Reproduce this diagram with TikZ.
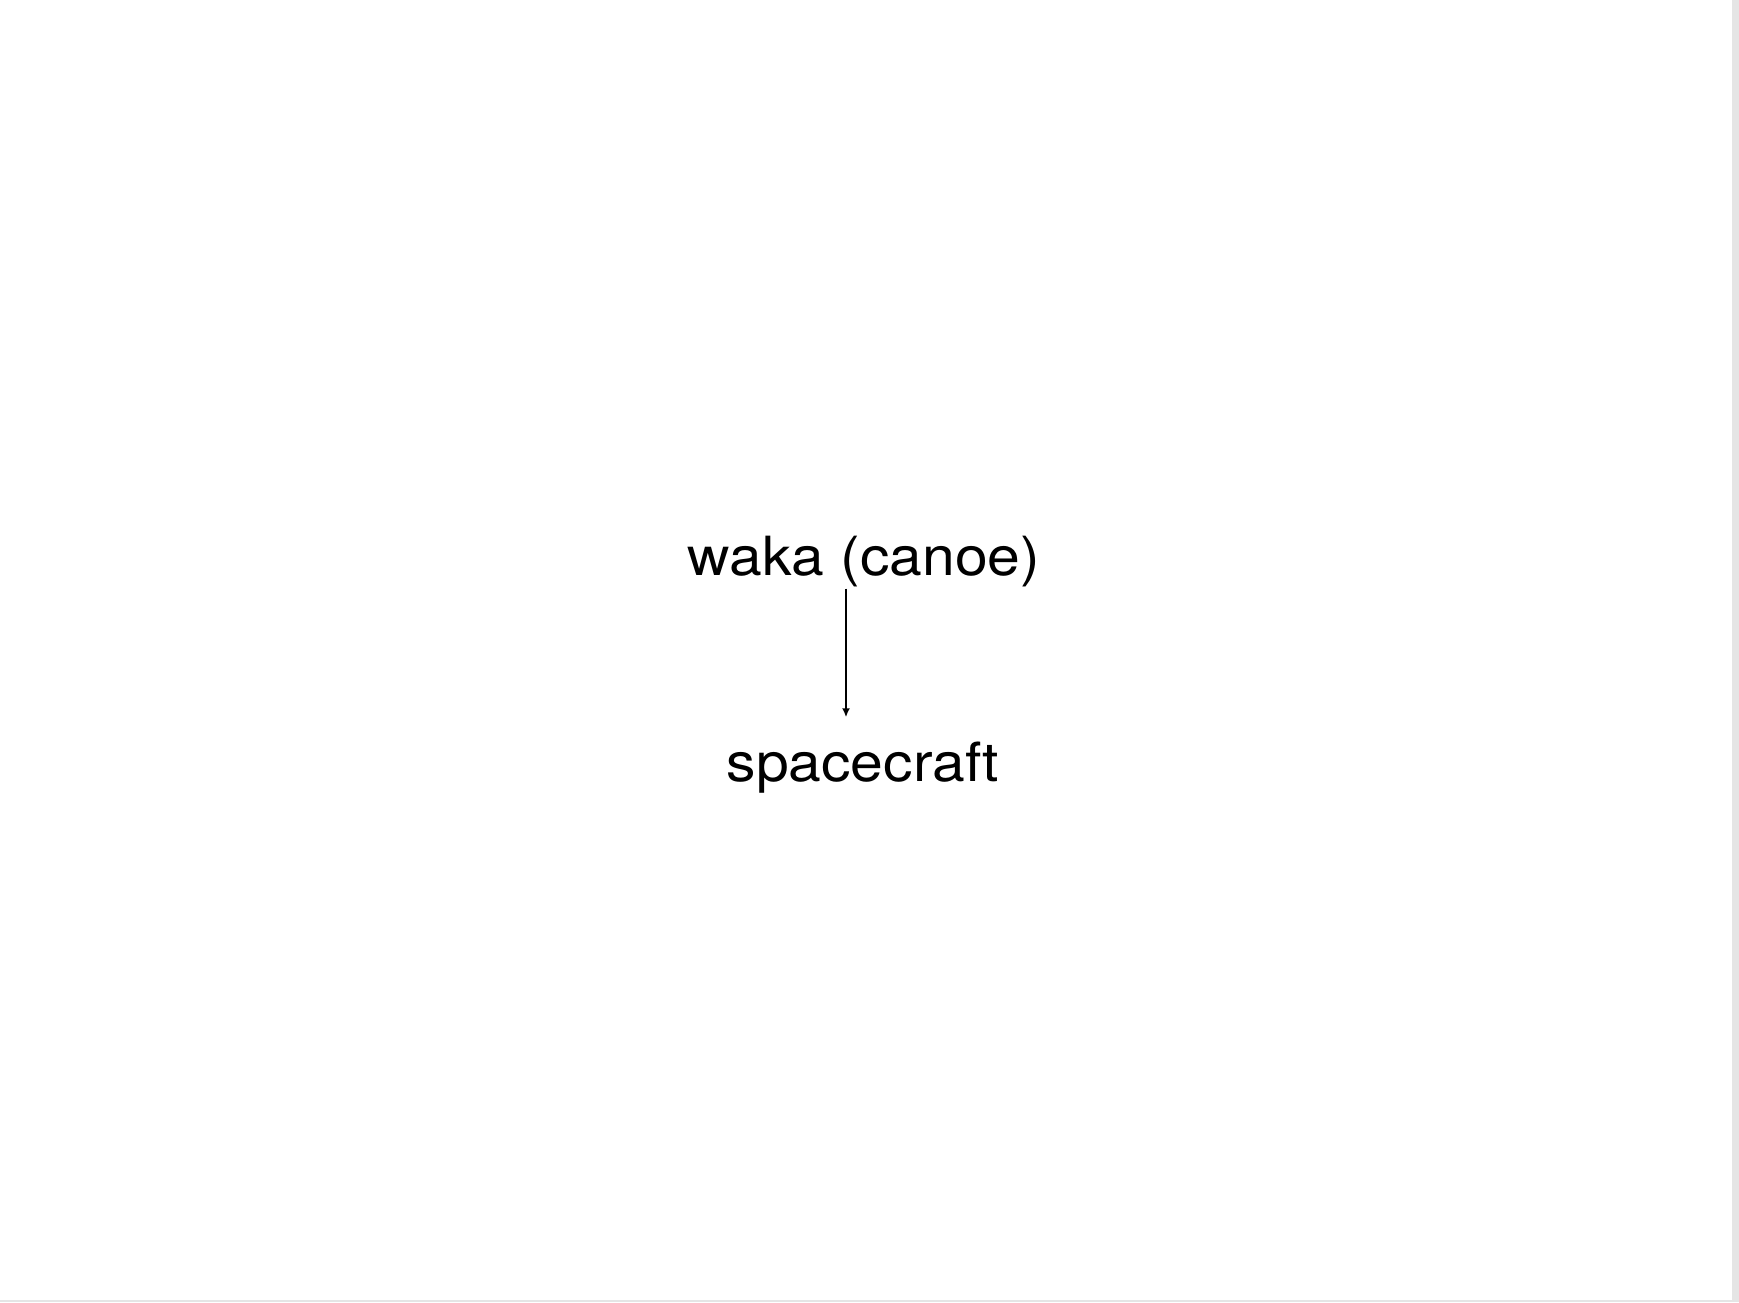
\documentclass[tikz,border=0pt]{standalone}
\usepackage{fontspec}
\setmainfont{TeX Gyre Heros}
\usetikzlibrary{arrows.meta}
\newcommand{\widen}[1]{\scalebox{1.09}[1]{#1}}
\begin{document}
\begin{tikzpicture}[x=1pt,y=1pt,
  lbl/.style={inner sep=0pt, anchor=base, font=\fontsize{54}{60}\selectfont},
  conn/.style={line width=2pt, -{Latex[length=9pt,width=8pt]}}]
\useasboundingbox (0,0) rectangle (1739,1302);
\fill[white] (0,0) rectangle (1739,1302);
\fill[black!10] (1732,0) rectangle (1739,1302);
\fill[black!10] (0,0) rectangle (1739,2);
\node[lbl] (waka) at (864,726) {\widen{waka (canoe)}};
\node[lbl] (space) at (863,520) {\widen{spacecraft}};
\draw[conn] ([xshift=-18pt,yshift=-1pt]waka.south) -- ([xshift=-17pt,yshift=25pt]space.north);
\end{tikzpicture}
\end{document}
